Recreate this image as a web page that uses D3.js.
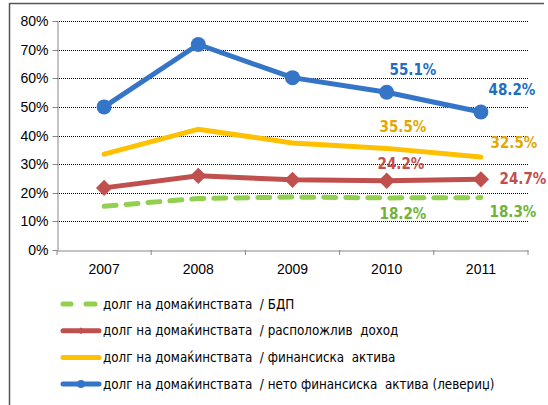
<!DOCTYPE html>
<html><head><meta charset="utf-8">
<script src="https://cdn.jsdelivr.net/npm/d3@7"></script>
<style>body{margin:0;background:#fff;} svg{display:block;font-family:"DejaVu Sans Condensed","DejaVu Sans",sans-serif;}</style>
</head><body><svg id="c" width="548" height="405"></svg>
<script>
const years = ["2007","2008","2009","2010","2011"];
const yTicks = [0,0.1,0.2,0.3,0.4,0.5,0.6,0.7,0.8];
const gdp = [0.153,0.180,0.185,0.182,0.183];
const income = [0.217,0.259,0.245,0.242,0.247];
const assets = [0.335,0.422,0.374,0.355,0.325];
const netAssets = [0.500,0.718,0.602,0.551,0.482];
const names = ["долг на домаќинствата  / БДП","долг на домаќинствата  / расположлив  доход","долг на домаќинствата  / финансиска  актива","долг на домаќинствата  / нето финансиска  актива (левериџ)"];
const labels2010 = ["18.2%","24.2%","35.5%","55.1%"];
const labels2011 = ["18.3%","24.7%","32.5%","48.2%"];

const svg = d3.select("#c");
const x = d3.scaleBand().domain(years).range([57,528]);
const y = d3.scaleLinear().domain([0,0.8]).range([250,21]);

// frame
svg.append("line").attr("x1",9.5).attr("x2",544).attr("y1",3.5).attr("y2",3.5).attr("stroke","#555").attr("stroke-width",1.5);
svg.append("line").attr("x1",9.5).attr("x2",9.5).attr("y1",3).attr("y2",405).attr("stroke","#555").attr("stroke-width",1.5);

// grid
svg.append("g").selectAll("line").data(yTicks.filter(d=>d>0)).join("line")
 .attr("x1",57).attr("x2",528).attr("y1",d=>Math.round(y(d))+0.5).attr("y2",d=>Math.round(y(d))+0.5)
 .attr("stroke","#000").attr("stroke-dasharray","1,1").attr("stroke-width",1);

// y axis
const ya = svg.append("g").attr("transform","translate(57.5,0)")
 .call(d3.axisLeft(y).tickValues(yTicks).tickFormat(d3.format(".0%")).tickSize(5).tickSizeOuter(0));
ya.select(".domain").attr("stroke","#888");
ya.selectAll(".tick line").attr("stroke","#888");
ya.selectAll("text").attr("font-size",14).attr("fill","#000").attr("x",-9);
ya.selectAll(".tick").attr("transform",d=>`translate(0,${Math.round(y(d))+0.5})`);

// x axis
const xa = svg.append("g").attr("transform","translate(0,250.5)")
 .call(d3.axisBottom(x).tickSize(0).tickSizeOuter(0));
xa.select(".domain").attr("stroke","#888");
xa.selectAll("text").attr("font-size",14).attr("fill","#000").attr("dy","1.45em");
const bounds = years.map(d=>x(d)).concat([x.range()[1]]);
svg.append("g").selectAll("line").data(bounds).join("line")
 .attr("x1",d=>d).attr("x2",d=>d).attr("y1",250).attr("y2",255).attr("stroke","#888");

const cx = d=>x(d)+x.bandwidth()/2;
const line = d3.line().x((d,i)=>cx(years[i])).y(d=>y(d));
const green="#92d050", red="#c0504d", yellow="#ffc000", blue="#3575c8";

svg.append("path").datum(gdp).attr("d",line).attr("fill","none").attr("stroke",green).attr("stroke-width",5).attr("stroke-dasharray","12,10").attr("stroke-linecap","round");
svg.append("path").datum(income).attr("d",line).attr("fill","none").attr("stroke",red).attr("stroke-width",5);
svg.append("path").datum(assets).attr("d",line).attr("fill","none").attr("stroke",yellow).attr("stroke-width",5).attr("stroke-linecap","round");
svg.append("path").datum(netAssets).attr("d",line).attr("fill","none").attr("stroke",blue).attr("stroke-width",5);

const diamond = d3.symbol().type(d3.symbolDiamond2).size(170);
svg.append("g").selectAll("path").data(income).join("path")
 .attr("d",diamond).attr("transform",(d,i)=>`translate(${cx(years[i])},${y(d)})`).attr("fill",red);
svg.append("g").selectAll("circle").data(netAssets).join("circle")
 .attr("cx",(d,i)=>cx(years[i])).attr("cy",d=>y(d)).attr("r",7.5).attr("fill",blue);

// data labels
const labColors=["#6fb33a",red,"#e3a800","#1f6fc0"];
const pos2010=[[403,219],[401,169],[403,132],[413,75]];
const pos2011=[[513,217],[523,184],[514,148],[512,95]];
svg.append("g").selectAll("text").data(labels2010).join("text")
 .attr("x",(d,i)=>pos2010[i][0]).attr("y",(d,i)=>pos2010[i][1]).attr("text-anchor","middle")
 .attr("font-size",15).attr("font-weight","bold").attr("fill",(d,i)=>labColors[i]).text(d=>d);
svg.append("g").selectAll("text").data(labels2011).join("text")
 .attr("x",(d,i)=>pos2011[i][0]).attr("y",(d,i)=>pos2011[i][1]).attr("text-anchor","middle")
 .attr("font-size",15).attr("font-weight","bold").attr("fill",(d,i)=>labColors[i]).text(d=>d);

// legend
const leg = svg.append("g");
const colors=[green,red,yellow,blue];
names.forEach((n,i)=>{
  const yy = 304 + i*26.7;
  const g = leg.append("g");
  if(i===0){
    g.append("line").attr("x1",63).attr("x2",71).attr("y1",yy).attr("y2",yy).attr("stroke",green).attr("stroke-width",5).attr("stroke-linecap","round");
    g.append("line").attr("x1",86).attr("x2",95).attr("y1",yy).attr("y2",yy).attr("stroke",green).attr("stroke-width",5).attr("stroke-linecap","round");
  } else {
    g.append("line").attr("x1",63).attr("x2",99).attr("y1",yy).attr("y2",yy).attr("stroke",colors[i]).attr("stroke-width",5).attr("stroke-linecap","round");
  }
  if(i===1) g.append("path").attr("d",d3.symbol().type(d3.symbolDiamond2).size(30)).attr("transform",`translate(81,${yy})`).attr("fill",red);
  if(i===3) g.append("circle").attr("cx",81).attr("cy",yy).attr("r",4).attr("fill",blue);
  g.append("text").attr("x",103).attr("y",yy).attr("dy","0.35em").attr("font-size",13.3).attr("fill","#000").style("white-space","pre").text(n);
});
</script></body></html>
